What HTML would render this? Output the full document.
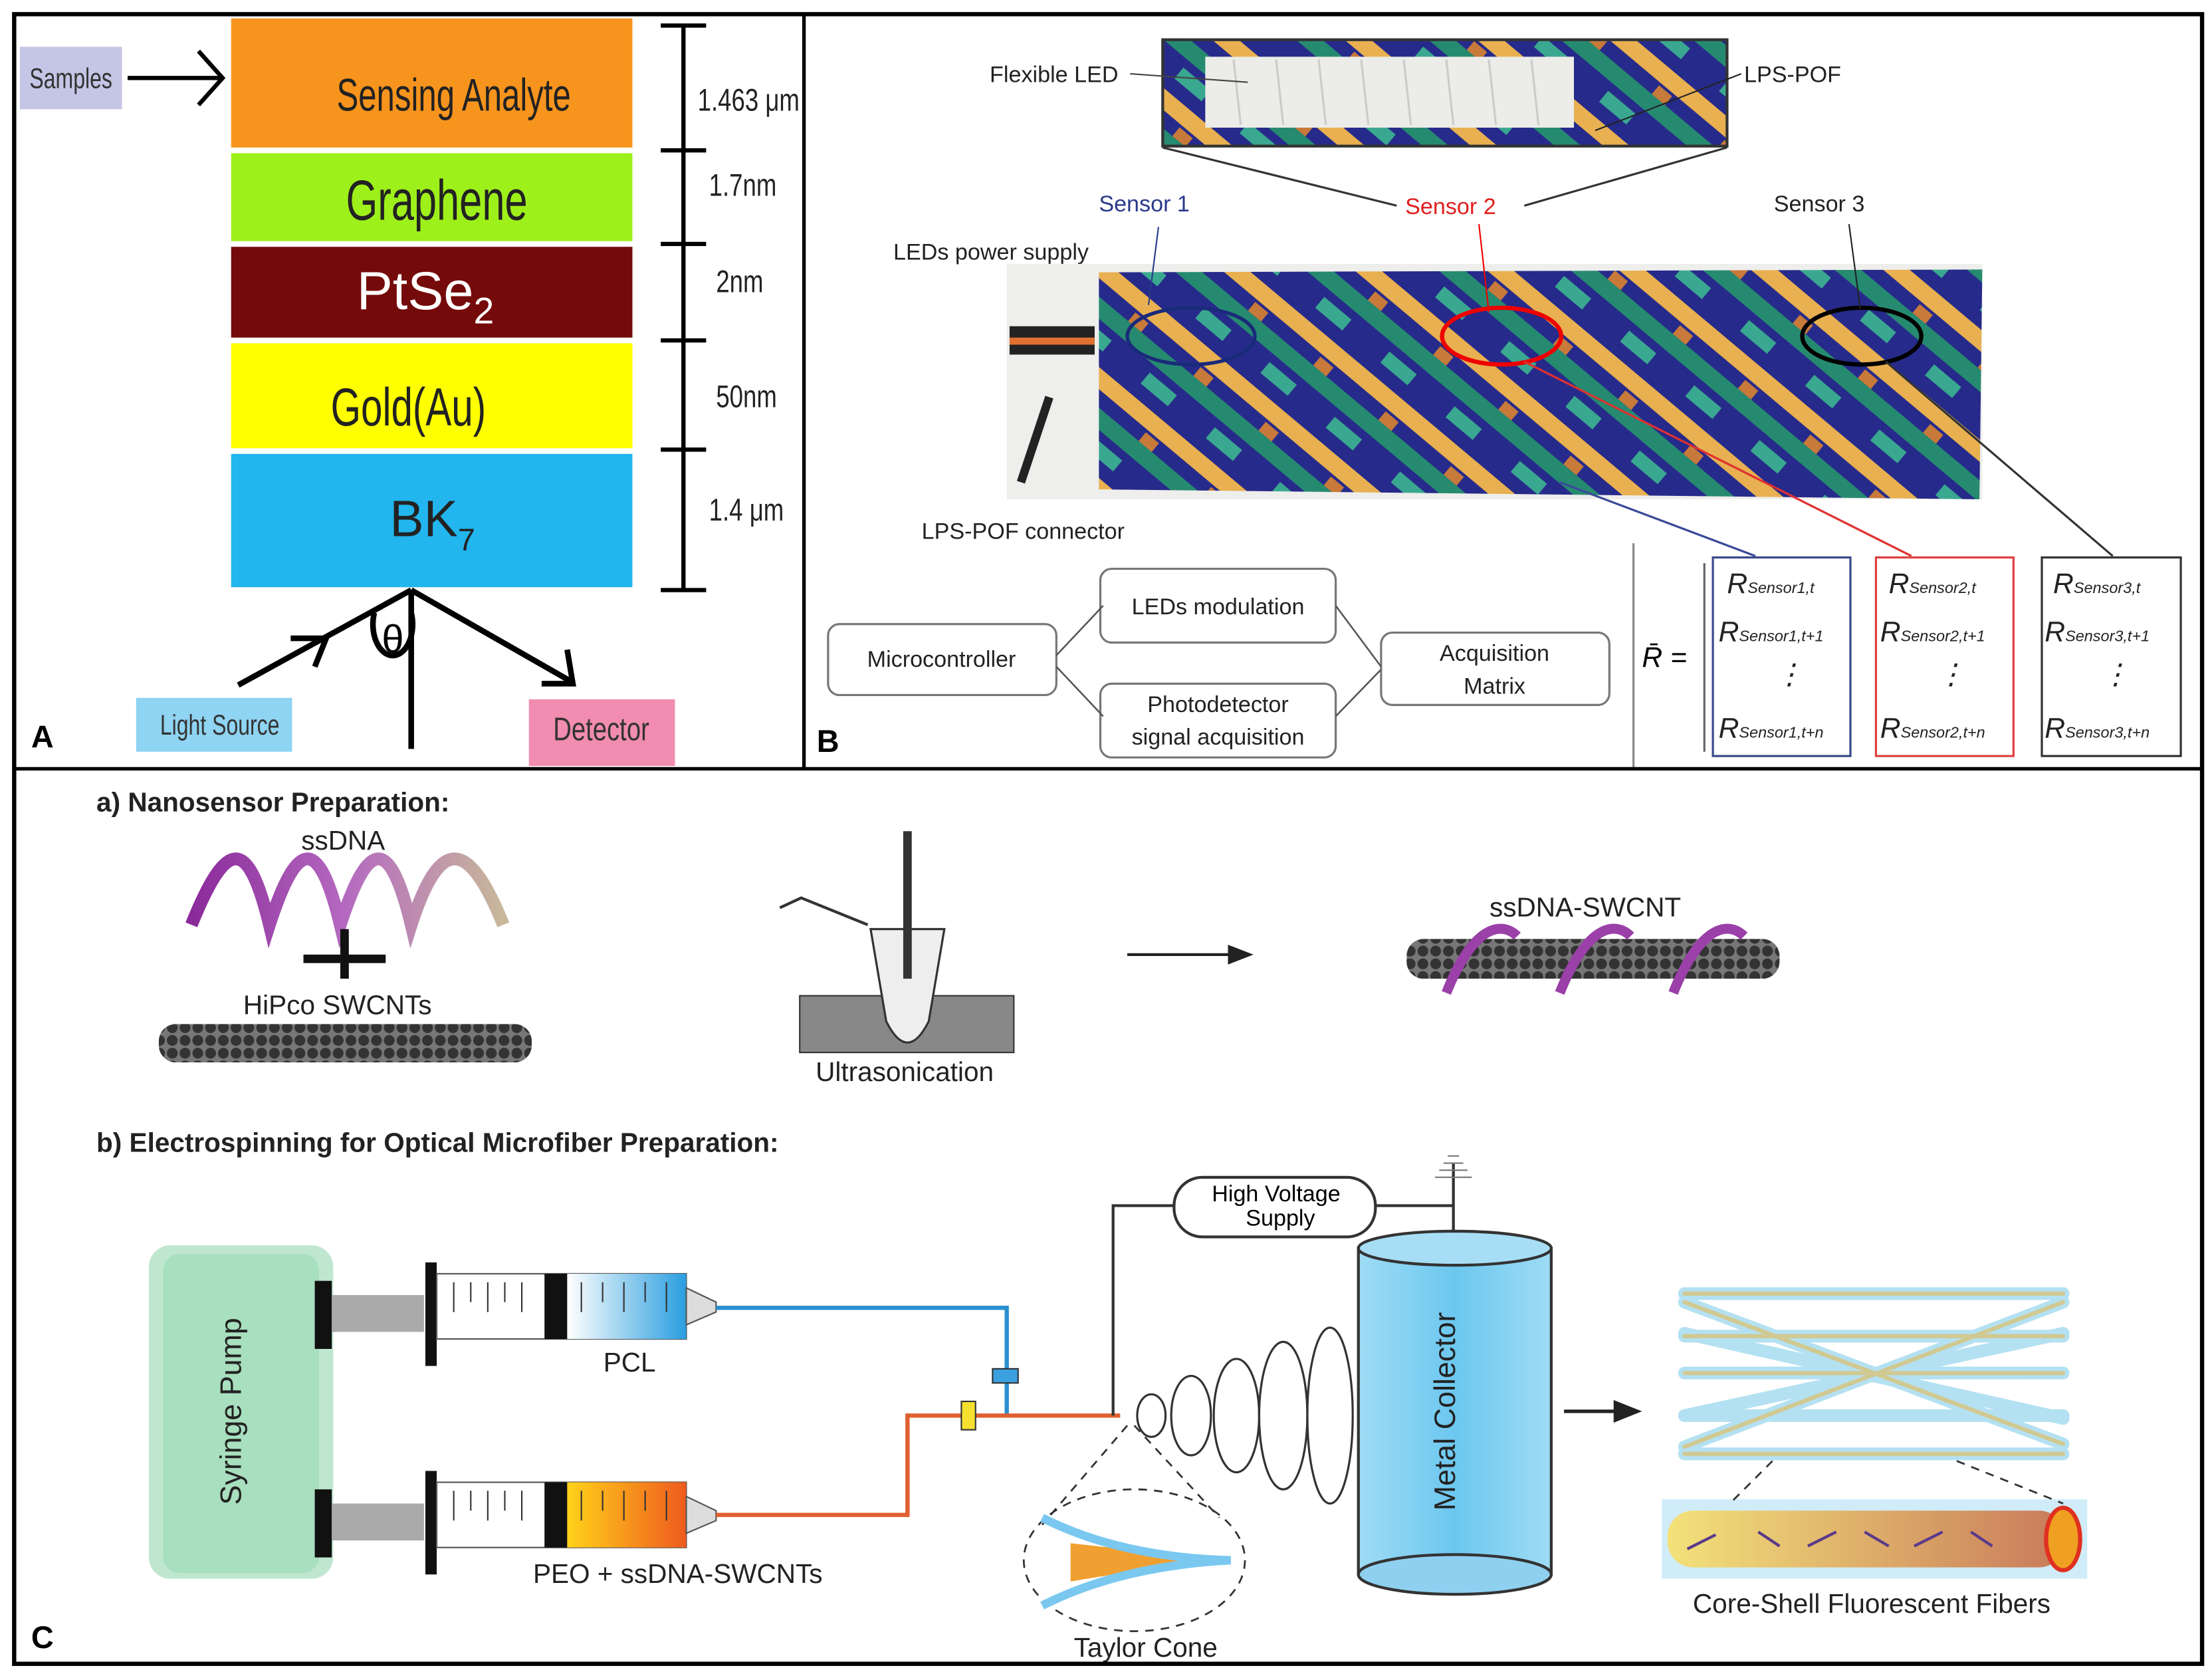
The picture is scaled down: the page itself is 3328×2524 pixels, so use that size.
<!DOCTYPE html>
<html><head><meta charset="utf-8"><style>
html,body{margin:0;padding:0;background:#fff}
svg{display:block}
text{font-family:"Liberation Sans",sans-serif}
</style></head><body>
<svg width="3328" height="2524" viewBox="0 0 1560 1183" preserveAspectRatio="none" xmlns="http://www.w3.org/2000/svg">
<defs>
<pattern id="fab" width="60" height="60" patternUnits="userSpaceOnUse" patternTransform="rotate(40)">
<rect width="60" height="60" fill="#262a8a"/>
<rect x="0" y="0" width="60" height="12" fill="#e8b050"/>
<rect x="0" y="22" width="60" height="12" fill="#268a70"/>
<rect x="10" y="40" width="25" height="10" fill="#3aa890"/>
<rect x="35" y="14" width="12" height="8" fill="#c87a3a"/>
</pattern>
<linearGradient id="blu" x1="0" x2="1"><stop offset="0" stop-color="#fff"/><stop offset="1" stop-color="#2a9ee0"/></linearGradient>
<linearGradient id="org" x1="0" x2="1"><stop offset="0" stop-color="#ffd21a"/><stop offset="1" stop-color="#ef5a1e"/></linearGradient>
<linearGradient id="col" x1="0" x2="1"><stop offset="0" stop-color="#9fdcf5"/><stop offset=".5" stop-color="#6cc7ef"/><stop offset="1" stop-color="#9fdcf5"/></linearGradient>
<linearGradient id="core" x1="0" x2="1"><stop offset="0" stop-color="#f3e27a"/><stop offset="1" stop-color="#c87a5a"/></linearGradient>
<linearGradient id="hel" x1="0" x2="1"><stop offset="0" stop-color="#8a2a9a"/><stop offset=".5" stop-color="#b56ac0"/><stop offset="1" stop-color="#c8b89a"/></linearGradient>
<pattern id="cnt" width="9" height="9" patternUnits="userSpaceOnUse"><rect width="9" height="9" fill="#777"/><circle cx="4.5" cy="4.5" r="3.8" fill="#333"/></pattern>
</defs>
<rect width="1560" height="1183" fill="#fff"/>
<!-- Panel A -->
<rect x="14" y="33" width="72" height="44" fill="#c5c5e6"/>
<text x="50" y="62" font-size="20" text-anchor="middle" fill="#333" transform="translate(50 0) scale(.75 1) translate(-50 0)">Samples</text>
<line x1="90" y1="55" x2="155" y2="55" stroke="#000" stroke-width="3"/>
<path d="M140 36 L157 55 L140 74" fill="none" stroke="#000" stroke-width="3"/>
<rect x="163" y="13" width="283" height="91" fill="#f7941d"/>
<rect x="163" y="108" width="283" height="62" fill="#9ef01a"/>
<rect x="163" y="174" width="283" height="64" fill="#750a0a"/>
<rect x="163" y="242" width="283" height="74" fill="#ffff00"/>
<rect x="163" y="320" width="283" height="94" fill="#22b5ee"/>
<text x="320" y="78" font-size="32" text-anchor="middle" transform="translate(320 0) scale(.72 1) translate(-320 0)" fill="#222">Sensing Analyte</text>
<text x="308" y="155" font-size="40" text-anchor="middle" fill="#222" transform="translate(308 0) scale(.72 1) translate(-308 0)">Graphene</text>
<text x="300" y="218" font-family="Liberation Serif,serif" font-size="38" text-anchor="middle" fill="#fff">PtSe<tspan font-size="26" dy="10">2</tspan></text>
<text x="288" y="300" font-size="38" text-anchor="middle" fill="#222" transform="translate(288 0) scale(.72 1) translate(-288 0)">Gold(Au)</text>
<text x="305" y="378" font-family="Liberation Serif,serif" font-size="36" text-anchor="middle" fill="#222">BK<tspan font-size="22" dy="10">7</tspan></text>
<g stroke="#000" stroke-width="3"><line x1="482" y1="18" x2="482" y2="416"/>
<line x1="466" y1="18" x2="498" y2="18"/><line x1="466" y1="106" x2="498" y2="106"/><line x1="466" y1="172" x2="498" y2="172"/><line x1="466" y1="240" x2="498" y2="240"/><line x1="466" y1="317" x2="498" y2="317"/><line x1="466" y1="416" x2="498" y2="416"/></g>
<g font-family="Liberation Serif,serif" font-size="22" fill="#222">
<text x="492" y="78" transform="translate(492 0) scale(.78 1) translate(-492 0)">1.463 μm</text>
<text x="500" y="138" transform="translate(500 0) scale(.78 1) translate(-500 0)">1.7nm</text>
<text x="505" y="206" transform="translate(505 0) scale(.78 1) translate(-505 0)">2nm</text>
<text x="505" y="287" transform="translate(505 0) scale(.78 1) translate(-505 0)">50nm</text>
<text x="500" y="367" transform="translate(500 0) scale(.78 1) translate(-500 0)">1.4 μm</text></g>
<g stroke="#000" stroke-width="4" fill="none">
<line x1="290" y1="416" x2="290" y2="528"/>
<line x1="168" y1="483" x2="290" y2="416"/>
<path d="M205 450 L230 450 L222 470"/>
<line x1="290" y1="416" x2="402" y2="480"/>
<path d="M382 482 L404 482 L400 458"/>
<path d="M264 432 A14 22 0 1 0 290 432"/></g>
<text x="277" y="460" font-family="Liberation Serif,serif" font-size="28" text-anchor="middle">θ</text>
<rect x="96" y="492" width="110" height="38" fill="#8fd4f2"/>
<text x="155" y="518" font-size="20" text-anchor="middle" fill="#333" transform="translate(155 0) scale(.75 1) translate(-155 0)">Light Source</text>
<rect x="373" y="493" width="103" height="47" fill="#f28cb0"/>
<text x="424" y="522" font-size="23" text-anchor="middle" fill="#333" transform="translate(424 0) scale(.78 1) translate(-424 0)">Detector</text>
<text x="22" y="527" font-size="22" font-weight="bold">A</text>
<!-- Panel B -->
<rect x="820" y="28" width="398" height="75" fill="url(#fab)" stroke="#333" stroke-width="2"/>
<rect x="850" y="40" width="260" height="50" fill="#ecece8"/>
<g stroke="#ccc" stroke-width="1.5"><line x1="870" y1="42" x2="875" y2="88"/><line x1="900" y1="42" x2="905" y2="88"/><line x1="930" y1="42" x2="935" y2="88"/><line x1="960" y1="42" x2="965" y2="88"/><line x1="990" y1="42" x2="995" y2="88"/><line x1="1020" y1="42" x2="1025" y2="88"/><line x1="1050" y1="42" x2="1055" y2="88"/><line x1="1080" y1="42" x2="1085" y2="88"/></g>
<line x1="820" y1="104" x2="985" y2="145" stroke="#333" stroke-width="1.5"/>
<line x1="1218" y1="104" x2="1075" y2="145" stroke="#333" stroke-width="1.5"/>
<text x="698" y="58" font-size="16" fill="#222">Flexible LED</text>
<line x1="797" y1="52" x2="880" y2="58" stroke="#444"/>
<text x="1230" y="58" font-size="16" fill="#222">LPS-POF</text>
<line x1="1228" y1="52" x2="1125" y2="92" stroke="#222"/>
<text x="775" y="149" font-size="16" fill="#2a3a8a">Sensor 1</text>
<text x="991" y="151" font-size="16" fill="#e02020">Sensor 2</text>
<text x="1251" y="149" font-size="16" fill="#222">Sensor 3</text>
<text x="630" y="183" font-size="16" fill="#222">LEDs power supply</text>
<text x="650" y="380" font-size="16" fill="#222">LPS-POF connector</text>
<rect x="710" y="186" width="688" height="166" fill="#eeeeec"/>
<path d="M775 192 L1398 190 L1396 352 L775 345 Z" fill="url(#fab)"/>
<rect x="712" y="230" width="60" height="20" fill="#222"/><rect x="712" y="238" width="60" height="5" fill="#e07030"/>
<line x1="720" y1="340" x2="740" y2="280" stroke="#222" stroke-width="6"/>
<ellipse cx="840" cy="237" rx="45" ry="20" fill="none" stroke="#1a2a7a" stroke-width="2.5"/>
<ellipse cx="1059" cy="237" rx="42" ry="20" fill="none" stroke="#e00" stroke-width="3"/>
<ellipse cx="1313" cy="237" rx="42" ry="20" fill="none" stroke="#000" stroke-width="3"/>
<line x1="817" y1="160" x2="810" y2="215" stroke="#2a3a8a"/><line x1="1043" y1="158" x2="1050" y2="220" stroke="#e00"/><line x1="1304" y1="158" x2="1312" y2="218" stroke="#222"/>
<line x1="1100" y1="340" x2="1238" y2="392" stroke="#3a4a9a" stroke-width="1.5"/>
<line x1="1075" y1="255" x2="1348" y2="392" stroke="#e03030" stroke-width="1.5"/>
<line x1="1330" y1="255" x2="1490" y2="392" stroke="#333" stroke-width="1.5"/>
<g fill="#fff" stroke="#777" stroke-width="1.5">
<rect x="584" y="440" width="161" height="50" rx="8"/>
<rect x="776" y="401" width="166" height="52" rx="8"/>
<rect x="776" y="482" width="166" height="52" rx="8"/>
<rect x="974" y="446" width="161" height="51" rx="8"/></g>
<g stroke="#555" stroke-width="1.2" fill="none"><path d="M745 462 L778 427"/><path d="M745 470 L778 505"/><path d="M942 427 L974 470"/><path d="M942 505 L974 472"/></g>
<g font-size="16" fill="#222" text-anchor="middle">
<text x="664" y="470">Microcontroller</text><text x="859" y="433">LEDs modulation</text>
<text x="859" y="502">Photodetector</text><text x="859" y="525">signal acquisition</text>
<text x="1054" y="466">Acquisition</text><text x="1054" y="489">Matrix</text></g>
<line x1="1152" y1="383" x2="1152" y2="542" stroke="#888" stroke-width="1.5"/>
<text x="1158" y="470" font-family="Liberation Serif,serif" font-style="italic" font-size="20">R̄ =</text>
<rect x="1208" y="393" width="97" height="140" fill="none" stroke="#3a4a8a" stroke-width="1.5"/>
<rect x="1323" y="393" width="97" height="140" fill="none" stroke="#e04040" stroke-width="1.5"/>
<rect x="1440" y="393" width="98" height="140" fill="none" stroke="#333" stroke-width="1.5"/>
<line x1="1202" y1="397" x2="1202" y2="530" stroke="#666" stroke-width="1.5"/>
<g font-family="Liberation Serif,serif" font-style="italic" font-size="20" fill="#222">
<text x="1218" y="418">R<tspan font-size="11">Sensor1,t</tspan></text><text x="1212" y="452">R<tspan font-size="11">Sensor1,t+1</tspan></text><text x="1212" y="520">R<tspan font-size="11">Sensor1,t+n</tspan></text>
<text x="1332" y="418">R<tspan font-size="11">Sensor2,t</tspan></text><text x="1326" y="452">R<tspan font-size="11">Sensor2,t+1</tspan></text><text x="1326" y="520">R<tspan font-size="11">Sensor2,t+n</tspan></text>
<text x="1448" y="418">R<tspan font-size="11">Sensor3,t</tspan></text><text x="1442" y="452">R<tspan font-size="11">Sensor3,t+1</tspan></text><text x="1442" y="520">R<tspan font-size="11">Sensor3,t+n</tspan></text>
<text x="1252" y="482">⋮</text><text x="1366" y="482">⋮</text><text x="1482" y="482">⋮</text></g>
<text x="576" y="530" font-size="22" font-weight="bold">B</text>
<!-- Panel C -->
<text x="68" y="572" font-size="19" font-weight="bold" fill="#222">a) Nanosensor Preparation:</text>
<text x="242" y="599" font-size="19" text-anchor="middle" fill="#222">ssDNA</text>
<path d="M135 652 C160 590 175 590 190 652 C210 590 225 590 240 652 C260 590 275 590 290 652 C310 590 330 590 355 652" fill="none" stroke="url(#hel)" stroke-width="9"/>
<line x1="214" y1="676" x2="272" y2="676" stroke="#111" stroke-width="6"/><line x1="243" y1="655" x2="243" y2="690" stroke="#111" stroke-width="6"/>
<text x="238" y="715" font-size="19" text-anchor="middle" fill="#222">HiPco SWCNTs</text>
<rect x="112" y="722" width="263" height="27" rx="12" fill="url(#cnt)"/>
<rect x="564" y="702" width="151" height="40" fill="#888" stroke="#333"/>
<path d="M614 655 L666 655 L655 720 Q640 750 625 720 Z" fill="#eee" stroke="#333" stroke-width="1.5"/>
<line x1="640" y1="586" x2="640" y2="690" stroke="#333" stroke-width="6"/>
<path d="M550 640 L565 633 L612 652" fill="none" stroke="#333" stroke-width="2"/>
<text x="638" y="762" font-size="19" text-anchor="middle" fill="#222">Ultrasonication</text>
<line x1="795" y1="673" x2="870" y2="673" stroke="#222" stroke-width="2"/><path d="M866 666 L884 673 L866 680Z" fill="#222"/>
<text x="1118" y="646" font-size="19" text-anchor="middle" fill="#222">ssDNA-SWCNT</text>
<rect x="992" y="662" width="263" height="28" rx="12" fill="url(#cnt)"/>
<path d="M1020 700 C1040 650 1060 650 1070 660 M1100 700 C1120 650 1140 650 1150 660 M1180 700 C1200 650 1220 650 1230 660" fill="none" stroke="#9a40a8" stroke-width="7"/>
<text x="68" y="812" font-size="19" font-weight="bold" fill="#222">b) Electrospinning for Optical Microfiber Preparation:</text>
<rect x="105" y="878" width="130" height="235" rx="15" fill="#bfe7cf"/>
<rect x="115" y="884" width="110" height="225" rx="12" fill="#9edbb6" opacity=".7"/>
<text x="170" y="995" font-size="21" text-anchor="middle" fill="#222" transform="rotate(-90 170 995)">Syringe Pump</text>
<g>
<rect x="222" y="903" width="12" height="48" fill="#111"/><rect x="234" y="913" width="65" height="26" fill="#aaa"/>
<rect x="300" y="890" width="8" height="73" fill="#111"/><rect x="308" y="898" width="176" height="46" fill="#fff" stroke="#555"/>
<rect x="400" y="898" width="84" height="46" fill="url(#blu)"/><rect x="384" y="898" width="16" height="46" fill="#111"/>
<path d="M484 908 L505 918 L505 925 L484 934Z" fill="#ddd" stroke="#555"/>
<rect x="222" y="1050" width="12" height="48" fill="#111"/><rect x="234" y="1060" width="65" height="26" fill="#aaa"/>
<rect x="300" y="1037" width="8" height="73" fill="#111"/><rect x="308" y="1045" width="176" height="46" fill="#fff" stroke="#555"/>
<rect x="400" y="1045" width="84" height="46" fill="url(#org)"/><rect x="384" y="1045" width="16" height="46" fill="#111"/>
<path d="M484 1055 L505 1065 L505 1072 L484 1081Z" fill="#ddd" stroke="#555"/>
</g>
<g stroke="#333" stroke-width="1"><line x1="320" y1="904" x2="320" y2="925"/><line x1="332" y1="904" x2="332" y2="918"/><line x1="344" y1="904" x2="344" y2="925"/><line x1="356" y1="904" x2="356" y2="918"/><line x1="368" y1="904" x2="368" y2="925"/><line x1="410" y1="904" x2="410" y2="925"/><line x1="425" y1="904" x2="425" y2="918"/><line x1="440" y1="904" x2="440" y2="925"/><line x1="455" y1="904" x2="455" y2="918"/><line x1="470" y1="904" x2="470" y2="925"/>
<line x1="320" y1="1051" x2="320" y2="1072"/><line x1="332" y1="1051" x2="332" y2="1065"/><line x1="344" y1="1051" x2="344" y2="1072"/><line x1="356" y1="1051" x2="356" y2="1065"/><line x1="368" y1="1051" x2="368" y2="1072"/><line x1="410" y1="1051" x2="410" y2="1072"/><line x1="425" y1="1051" x2="425" y2="1065"/><line x1="440" y1="1051" x2="440" y2="1072"/><line x1="455" y1="1051" x2="455" y2="1065"/><line x1="470" y1="1051" x2="470" y2="1072"/></g>
<text x="444" y="967" font-size="19" text-anchor="middle" fill="#222">PCL</text>
<text x="478" y="1116" font-size="19" text-anchor="middle" fill="#222">PEO + ssDNA-SWCNTs</text>
<path d="M505 922 L710 922 L710 998" fill="none" stroke="#2a8fd0" stroke-width="3"/>
<path d="M505 1068 L640 1068 L640 998 L790 998" fill="none" stroke="#e06030" stroke-width="3"/>
<rect x="700" y="965" width="18" height="10" fill="#3aa0e0" stroke="#333"/><rect x="678" y="988" width="10" height="20" fill="#f5e030" stroke="#333"/>
<path d="M785 998 L785 850 L830 850 M970 850 L1025 850 L1025 890 M1025 820 L1025 850" fill="none" stroke="#333" stroke-width="2"/>
<rect x="828" y="830" width="142" height="42" rx="20" fill="#fff" stroke="#333" stroke-width="2"/>
<text x="900" y="847" font-size="16" text-anchor="middle">High Voltage</text><text x="903" y="864" font-size="16" text-anchor="middle">Supply</text>
<g stroke="#777"><line x1="1012" y1="830" x2="1038" y2="830"/><line x1="1015" y1="825" x2="1035" y2="825"/><line x1="1018" y1="820" x2="1032" y2="820"/><line x1="1021" y1="815" x2="1029" y2="815"/></g>
<g fill="none" stroke="#333" stroke-width="1.5">
<ellipse cx="812" cy="998" rx="10" ry="15"/><ellipse cx="840" cy="998" rx="14" ry="28"/><ellipse cx="872" cy="998" rx="16" ry="40"/><ellipse cx="905" cy="998" rx="17" ry="52"/><ellipse cx="938" cy="998" rx="16" ry="62"/></g>
<rect x="958" y="880" width="136" height="230" fill="url(#col)" stroke="#333" stroke-width="2"/>
<ellipse cx="1026" cy="880" rx="68" ry="12" fill="#a8def5" stroke="#333" stroke-width="2"/>
<ellipse cx="1026" cy="1110" rx="68" ry="14" fill="#8fd0f0" stroke="#333" stroke-width="2"/>
<text x="1026" y="995" font-size="21" text-anchor="middle" fill="#222" transform="rotate(-90 1026 995)">Metal Collector</text>
<line x1="1103" y1="995" x2="1140" y2="995" stroke="#222" stroke-width="2.5"/><path d="M1138 987 L1158 995 L1138 1003Z" fill="#222"/>
<g stroke-width="9" stroke-linecap="round" opacity=".85">
<g stroke="#a8dcf0"><line x1="1188" y1="912" x2="1455" y2="912"/><line x1="1188" y1="942" x2="1455" y2="942"/><line x1="1188" y1="968" x2="1455" y2="968"/><line x1="1188" y1="998" x2="1455" y2="998"/><line x1="1188" y1="1025" x2="1455" y2="1025"/><line x1="1188" y1="918" x2="1455" y2="1018"/><line x1="1455" y1="918" x2="1188" y2="1020"/><line x1="1188" y1="940" x2="1455" y2="1000"/><line x1="1455" y1="940" x2="1188" y2="998"/></g>
<g stroke="#c8c080" stroke-width="3"><line x1="1188" y1="912" x2="1455" y2="912"/><line x1="1188" y1="942" x2="1455" y2="942"/><line x1="1188" y1="968" x2="1455" y2="968"/><line x1="1188" y1="1025" x2="1455" y2="1025"/><line x1="1188" y1="918" x2="1455" y2="1018"/><line x1="1455" y1="918" x2="1188" y2="1020"/></g></g>
<rect x="1172" y="1057" width="300" height="56" fill="#d0ecf8"/>
<rect x="1176" y="1065" width="280" height="40" rx="18" fill="url(#core)"/>
<ellipse cx="1455" cy="1085" rx="12" ry="22" fill="#f0a020" stroke="#e03020" stroke-width="3"/>
<g stroke="#5a3a8a" stroke-width="2"><line x1="1190" y1="1092" x2="1210" y2="1082"/><line x1="1240" y1="1080" x2="1255" y2="1090"/><line x1="1275" y1="1090" x2="1295" y2="1080"/><line x1="1315" y1="1080" x2="1332" y2="1090"/><line x1="1350" y1="1090" x2="1370" y2="1080"/><line x1="1390" y1="1080" x2="1405" y2="1090"/></g>
<g stroke="#333" stroke-width="1.3" stroke-dasharray="6 5" fill="none"><line x1="1250" y1="1030" x2="1220" y2="1060"/><line x1="1380" y1="1030" x2="1455" y2="1060"/><line x1="795" y1="1005" x2="735" y2="1075"/><line x1="800" y1="1005" x2="860" y2="1070"/><ellipse cx="800" cy="1100" rx="78" ry="50"/></g>
<path d="M755 1088 Q800 1093 865 1100 Q800 1107 755 1115 Z" fill="#f0a030"/>
<path d="M735 1070 Q790 1098 868 1100 Q790 1104 735 1132" fill="none" stroke="#7ac8f0" stroke-width="6"/>
<text x="1320" y="1137" font-size="19" text-anchor="middle" fill="#222">Core-Shell Fluorescent Fibers</text>
<text x="808" y="1168" font-size="19" text-anchor="middle" fill="#222">Taylor Cone</text>
<text x="22" y="1162" font-size="22" font-weight="bold">C</text>
<!-- borders -->
<rect x="10" y="10" width="1543" height="1163" fill="none" stroke="#000" stroke-width="3"/>
<line x1="567" y1="10" x2="567" y2="542" stroke="#000" stroke-width="2.5"/>
<line x1="10" y1="542" x2="1553" y2="542" stroke="#000" stroke-width="2.5"/>
</svg>
</body></html>
